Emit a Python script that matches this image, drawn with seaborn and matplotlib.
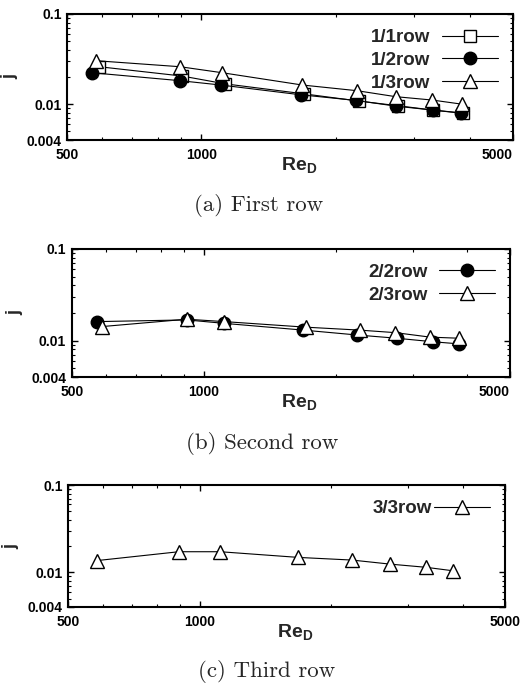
import numpy as np
import pandas as pd
import matplotlib
matplotlib.use("Agg")
import matplotlib.pyplot as plt
import seaborn as sns
from matplotlib.ticker import FixedLocator, FixedFormatter, NullFormatter

sns.set_style("ticks")
plt.rcParams['font.family'] = ['Liberation Sans', 'DejaVu Sans']
plt.rcParams['mathtext.fontset'] = 'custom'
plt.rcParams['mathtext.bf'] = 'Liberation Sans:bold'
plt.rcParams['mathtext.rm'] = 'Liberation Sans'

# data (Re_D, j)
re_11 = [590, 905, 1130, 1700, 2260, 2760, 3300, 3860]
j_11 = [0.0260, 0.0205, 0.0168, 0.0130, 0.0108, 0.0096, 0.0086, 0.0079]
re_12 = [568, 896, 1105, 1670, 2220, 2730, 3300, 3830]
j_12 = [0.0223, 0.0182, 0.0163, 0.0127, 0.0110, 0.0095, 0.0086, 0.0080]
re_13 = [581, 896, 1114, 1683, 2233, 2728, 3296, 3836]
j_13 = [0.0303, 0.0260, 0.0223, 0.0163, 0.0141, 0.0121, 0.0111, 0.0100]

re_22 = [570, 915, 1115, 1690, 2240, 2760, 3340, 3830]
j_22 = [0.0161, 0.0168, 0.0154, 0.0130, 0.0115, 0.0106, 0.0097, 0.0092]
re_23 = [585, 915, 1115, 1710, 2270, 2740, 3290, 3830]
j_23 = [0.0142, 0.0171, 0.0161, 0.0140, 0.0130, 0.0122, 0.0109, 0.0106]

re_33 = [581, 896, 1114, 1683, 2233, 2728, 3296, 3800]
j_33 = [0.0136, 0.0172, 0.0172, 0.0148, 0.0138, 0.0124, 0.0114, 0.0104]

panels = [
    [("1/1row", re_11, j_11, "s", "white"),
     ("1/2row", re_12, j_12, "o", "black"),
     ("1/3row", re_13, j_13, "^", "white")],
    [("2/2row", re_22, j_22, "o", "black"),
     ("2/3row", re_23, j_23, "^", "white")],
    [("3/3row", re_33, j_33, "^", "white")],
]
captions = ["(a) First row", "(b) Second row", "(c) Third row"]
ax_pos = [[0.128, 0.7956, 0.851, 0.184],
          [0.137, 0.4496, 0.836, 0.187],
          [0.130, 0.1139, 0.834, 0.178]]
cap_y = [0.700, 0.353, 0.019]
cap_x = [0.494, 0.500, 0.508]
text_pad = [0.6, 0.6, 0.1]
msize = {"s": 8.5, "o": 9, "^": 10}

fig = plt.figure(figsize=(5.24, 6.85), dpi=100)

for k, series in enumerate(panels):
    ax = fig.add_axes(ax_pos[k])
    for name, xs, ys, mk, fc in series:
        df = pd.DataFrame({"Re": xs, "j": ys})
        sns.lineplot(data=df, x="Re", y="j", ax=ax, color="black", lw=0.8,
                     marker=mk, markersize=msize[mk],
                     markerfacecolor=fc, markeredgecolor="black",
                     markeredgewidth=1.0, label=name)
    ax.set_xscale("log")
    ax.set_yscale("log")
    ax.set_xlim(500, 5000)
    ax.set_ylim(0.004, 0.1)
    ax.xaxis.set_major_locator(FixedLocator([500, 1000, 5000]))
    ax.xaxis.set_major_formatter(FixedFormatter(["500", "1000", "5000"]))
    ax.xaxis.set_minor_locator(FixedLocator([600, 700, 800, 900, 2000, 3000, 4000]))
    ax.xaxis.set_minor_formatter(NullFormatter())
    ax.yaxis.set_major_locator(FixedLocator([0.004, 0.01, 0.1]))
    ax.yaxis.set_major_formatter(FixedFormatter(["0.004", "0.01", "0.1"]))
    ax.yaxis.set_minor_locator(FixedLocator([0.005, 0.006, 0.007, 0.008, 0.009,
                                             0.02, 0.03, 0.04, 0.05, 0.06, 0.07, 0.08, 0.09]))
    ax.yaxis.set_minor_formatter(NullFormatter())
    ax.tick_params(which="both", direction="in", top=True, right=True, colors="black")
    ax.tick_params(which="major", length=4, width=1.0, labelsize=10)
    ax.tick_params(axis="x", which="major", pad=6)
    ax.tick_params(axis="y", which="major", pad=4)
    ax.tick_params(which="minor", length=2, width=0.8)
    for lab in ax.get_xticklabels() + ax.get_yticklabels():
        lab.set_fontweight("bold")
    if k < 2:
        ax.get_xticklabels()[-1].set_ha("right")
    for sp in ax.spines.values():
        sp.set_linewidth(1.5)
        sp.set_color("black")
    ax.set_xlabel(r"$\mathbf{Re_D}$", fontsize=14, labelpad=-2)
    ax.xaxis.set_label_coords(0.52, -0.12)
    ax.set_ylabel("j", fontsize=13, fontweight="bold", labelpad=6)
    ax.legend(loc="upper right", frameon=False, markerfirst=False,
              handlelength=3.0, handletextpad=text_pad[k], labelspacing=0.3,
              borderaxespad=0.4, prop={"size": 13.5, "weight": "bold"})
    fig.text(cap_x[k], cap_y[k], captions[k], ha="center", va="center",
             fontsize=16.5, family=["cmr10", "DejaVu Serif"])

fig.savefig("out.png", dpi=100)
